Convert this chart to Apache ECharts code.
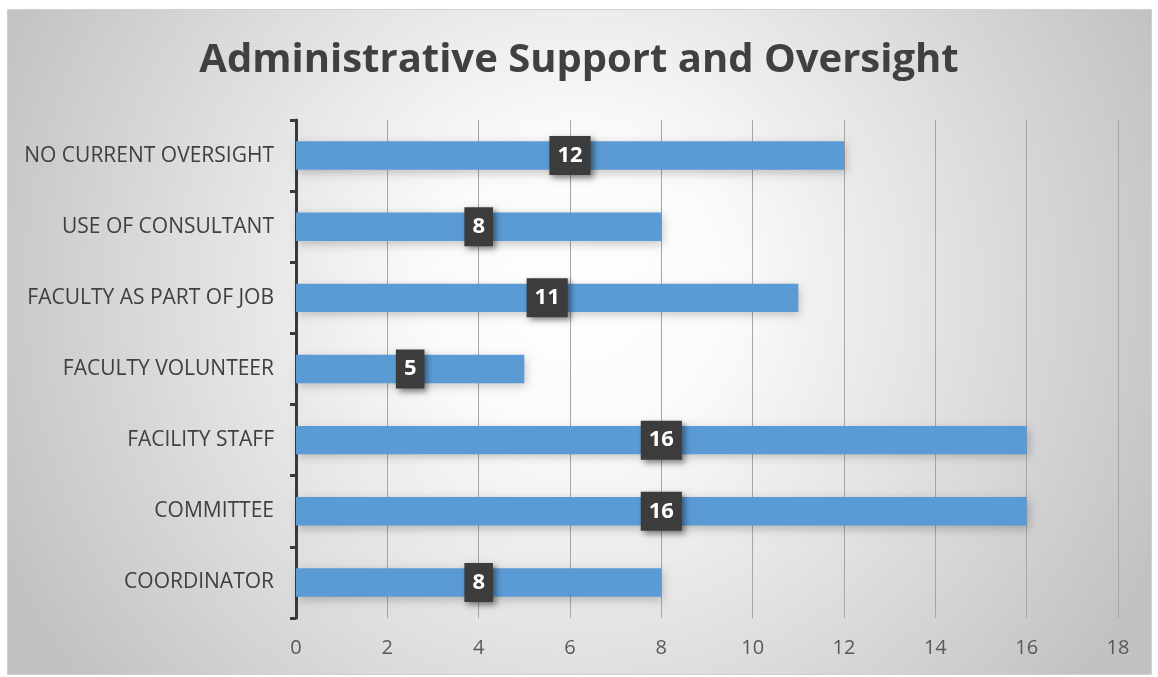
<!DOCTYPE html>
<html>
<head>
<meta charset="utf-8">
<script src="https://cdn.jsdelivr.net/npm/echarts@6/dist/echarts.min.js"></script>
<style>
  html, body { margin: 0; padding: 0; background: #ffffff; }
  #chart { width: 1158px; height: 677px; }
</style>
</head>
<body>
<div id="chart"></div>
<script>
// Categories listed bottom to top (category axis draws first item at the bottom)
const categories = [
  'COORDINATOR',
  'COMMITTEE',
  'FACILITY STAFF',
  'FACULTY VOLUNTEER',
  'FACULTY AS PART OF JOB',
  'USE OF CONSULTANT',
  'NO CURRENT OVERSIGHT'
];
const counts = [8, 16, 16, 5, 11, 8, 12];
const axisMin = 0;
const axisMax = 18;
const axisStep = 2;
const chartTitle = 'Administrative Support and Oversight';

const chart = echarts.init(document.getElementById('chart'), null, { renderer: 'canvas' });

const FONT = '"Open Sans", sans-serif';

chart.setOption({
  animation: false,
  graphic: [{
    type: 'rect',
    z: -10,
    silent: true,
    shape: { x: 7.5, y: 9.5, width: 1144, height: 665 },
    style: {
      fill: new echarts.graphic.RadialGradient(0.5, 0.42, 0.95, [
        { offset: 0, color: '#ffffff' },
        { offset: 0.25, color: '#fafafa' },
        { offset: 1, color: '#c2c2c2' }
      ]),
      stroke: '#d0d0d0',
      lineWidth: 1
    }
  }],
  title: {
    text: chartTitle,
    left: 'center',
    top: 36,
    textStyle: {
      fontFamily: FONT,
      fontSize: 40,
      fontWeight: 'bold',
      color: '#404040'
    }
  },
  grid: {
    left: 296,
    right: 40,
    top: 120,
    bottom: 59,
    containLabel: false
  },
  xAxis: {
    type: 'value',
    min: axisMin,
    max: axisMax,
    interval: axisStep,
    axisLine: { show: false },
    axisTick: { show: false },
    axisLabel: {
      fontFamily: FONT,
      fontSize: 20,
      color: '#595959',
      margin: 20
    },
    splitLine: {
      show: true,
      lineStyle: { color: '#a6a6a6', width: 1 }
    }
  },
  yAxis: {
    type: 'category',
    data: categories,
    axisLine: {
      show: true,
      lineStyle: { color: '#3a3a3a', width: 3 }
    },
    axisTick: {
      show: true,
      length: 6,
      lineStyle: { color: '#3a3a3a', width: 3 }
    },
    axisLabel: {
      fontFamily: FONT,
      fontSize: 21,
      color: '#404040',
      margin: 22
    },
    splitLine: { show: false }
  },
  series: [{
    type: 'bar',
    data: counts,
    barCategoryGap: '60%',
    itemStyle: {
      color: '#5b9bd5',
      shadowColor: 'rgba(0,0,0,0.22)',
      shadowBlur: 9,
      shadowOffsetX: 2,
      shadowOffsetY: 3
    },
    label: {
      show: true,
      position: 'inside',
      fontFamily: FONT,
      fontSize: 22,
      fontWeight: 'bold',
      color: '#ffffff',
      backgroundColor: '#3c3c3c',
      padding: [9, 8, 8, 8],
      shadowColor: 'rgba(0,0,0,0.45)',
      shadowBlur: 6,
      shadowOffsetX: 3,
      shadowOffsetY: 3
    }
  }]
});
</script>
</body>
</html>
